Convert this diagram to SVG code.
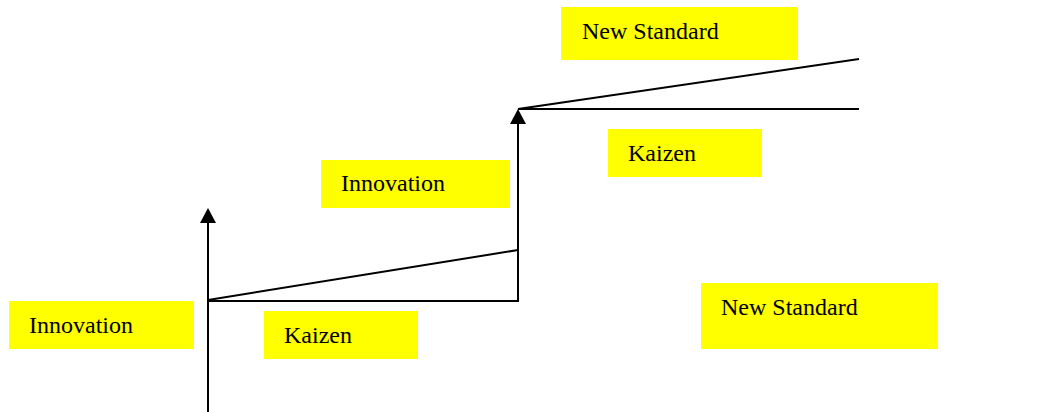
<svg xmlns="http://www.w3.org/2000/svg" width="1064" height="412" viewBox="0 0 1064 412">
<style>
.box{fill:#ffff00;stroke:none}
.lbl{font-family:"Liberation Serif","Times New Roman",serif;font-size:24px;fill:#000}
.ln{stroke:#000;stroke-width:2;fill:none}
</style>
<defs>
<marker id="ah" markerWidth="15" markerHeight="16" refX="0" refY="8" orient="auto" markerUnits="userSpaceOnUse" viewBox="0 0 15 16">
<path d="M0,0 L15,8 L0,16 Z" fill="#000"/>
</marker>
</defs>
<rect width="1064" height="412" fill="#fff"/>
<g id="connectors">
<path class="ln" d="M208,412 L208,223" marker-end="url(#ah)"/>
<path class="ln" d="M208,301 L518,301 L518,124" marker-end="url(#ah)"/>
<path class="ln" d="M208,300 L518,250"/>
<path class="ln" d="M518,109 L859,109"/>
<path class="ln" d="M518,109 L859,59"/>
</g>
<g id="new-standard-top"><rect class="box" x="561" y="7" width="237" height="53"/><text class="lbl" x="582" y="39">New Standard</text></g>
<g id="kaizen-top"><rect class="box" x="608" y="129" width="154" height="48"/><text class="lbl" x="628" y="161">Kaizen</text></g>
<g id="innovation-mid"><rect class="box" x="321" y="160" width="189" height="48"/><text class="lbl" x="341" y="191">Innovation</text></g>
<g id="innovation-left"><rect class="box" x="9" y="301" width="185" height="48"/><text class="lbl" x="29" y="333">Innovation</text></g>
<g id="kaizen-bottom"><rect class="box" x="264" y="311" width="154" height="48"/><text class="lbl" x="284" y="343">Kaizen</text></g>
<g id="new-standard-bottom"><rect class="box" x="701" y="283" width="237" height="66"/><text class="lbl" x="721" y="315">New Standard</text></g>
</svg>
